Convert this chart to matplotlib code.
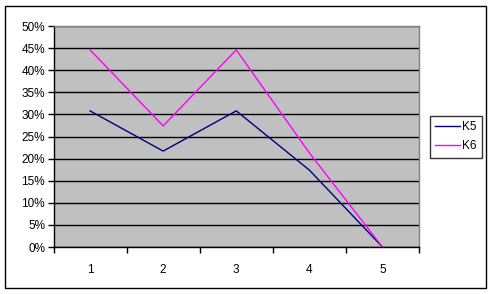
import matplotlib
matplotlib.use("Agg")
import matplotlib.pyplot as plt
from matplotlib.patches import Rectangle

plt.rcParams['font.family'] = ['Liberation Sans', 'DejaVu Sans']

categories = [1, 2, 3, 4, 5]
k5 = [30.8, 21.7, 30.8, 17.4, 0.0]
k6 = [44.6, 27.4, 44.6, 21.3, 0.0]
yticks = [0, 5, 10, 15, 20, 25, 30, 35, 40, 45, 50]

W, H = 491, 294
fig = plt.figure(figsize=(W / 100, H / 100), dpi=100)
fig.patch.set_facecolor('white')

# outer chart frame
fig.patches.append(Rectangle((5 / W, 6 / H), 481 / W, 282 / H, transform=fig.transFigure,
                             fill=False, edgecolor='black', linewidth=1))

left, right, top, bottom = 53.5, 419, 26, 247
ax = fig.add_axes([left / W, 1 - bottom / H, (right - left) / W, (bottom - top) / H])
ax.set_facecolor('#C0C0C0')

x = list(range(len(categories)))
ax.plot(x, k5, color='#000080', linewidth=1, label='K5')
ax.plot(x, k6, color='#FF00FF', linewidth=1, label='K6')

ax.set_xlim(-0.5, len(categories) - 0.5)
ax.set_ylim(0, 50)
ax.set_yticks(yticks)
ax.set_yticklabels([f"{v}%" for v in yticks], fontsize=8.5)
ax.grid(axis='y', color='black', linewidth=1)
ax.set_axisbelow(True)

ax.set_xticks([i - 0.5 for i in range(len(categories) + 1)])
ax.set_xticklabels([])
ax.set_xticks(x, minor=True)
ax.set_xticklabels([str(c) for c in categories], minor=True, fontsize=8.5)
ax.tick_params(axis='x', which='minor', length=0, pad=12)
ax.tick_params(axis='x', which='major', length=4, width=1, direction='out')
ax.tick_params(axis='y', length=4, width=1, direction='out', pad=2)

for s in ['top', 'right']:
    ax.spines[s].set_color('#808080')
for s in ['left', 'bottom']:
    ax.spines[s].set_color('black')
for s in ax.spines.values():
    s.set_linewidth(1)

leg = fig.legend(loc='upper left', bbox_to_anchor=(430 / W, 1 - 116 / H),
                 frameon=True, fancybox=False, edgecolor='black', fontsize=8.5,
                 handlelength=2.1, handletextpad=0.2, borderpad=0.45,
                 labelspacing=0.6, borderaxespad=0)
leg.get_frame().set_linewidth(1)

fig.savefig('out.png', dpi=100)
